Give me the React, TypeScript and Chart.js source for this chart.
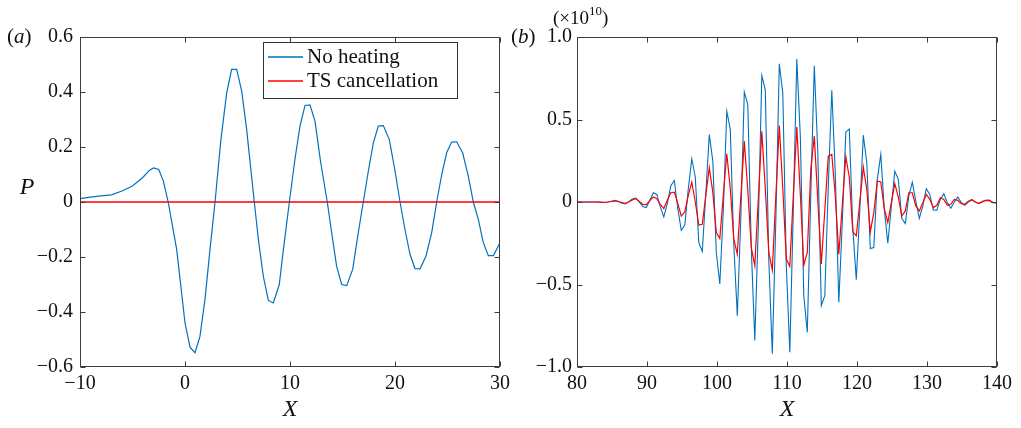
import React, { useEffect, useRef } from "react";
import { Chart, registerables } from "chart.js";

Chart.register(...registerables);

const SERIF = '"Liberation Serif", "Times New Roman", serif';
const BLUE = "#0072BD";
const RED = "#FF0000";
const FRAME = "#3c3c3c";

const seriesNames = ["No heating", "TS cancellation"];

// ---- panel (a) ----
const leftX = [
  -10, -9, -8, -7, -6, -5, -4, -3.4, -3.0, -2.5, -2.06, -1.6, -0.79, 0.0, 0.48, 0.95, 1.43, 1.9, 2.38, 2.86,
  3.4, 3.97, 4.44, 4.92, 5.4, 5.87, 6.6, 7.0, 7.46, 7.94, 8.41, 8.98, 9.37, 9.94, 10.45, 10.95, 11.43, 11.9,
  12.38, 12.9, 13.55, 14.0, 14.44, 14.92, 15.4, 15.97, 16.5, 16.98, 17.45, 17.94, 18.41, 18.89, 19.46, 19.97,
  20.48, 20.95, 21.43, 21.9, 22.38, 22.95, 23.49, 23.97, 24.45, 24.92, 25.4, 25.87, 26.44, 26.98, 27.46, 27.94,
  28.41, 28.89, 29.37, 30,
];
const leftNoHeating = [
  0.012, 0.018, 0.022, 0.026, 0.04, 0.058, 0.09, 0.115, 0.124, 0.118, 0.076, 0.0, -0.173, -0.44, -0.528, -0.548,
  -0.488, -0.355, -0.173, 0.0, 0.22, 0.397, 0.482, 0.482, 0.403, 0.264, 0.0, -0.14, -0.27, -0.358, -0.367, -0.3,
  -0.173, 0.0, 0.15, 0.276, 0.351, 0.353, 0.294, 0.15, 0.0, -0.12, -0.233, -0.3, -0.304, -0.245, -0.112, 0.0,
  0.11, 0.215, 0.276, 0.278, 0.227, 0.12, 0.0, -0.1, -0.19, -0.242, -0.243, -0.197, -0.112, 0.0, 0.1, 0.179,
  0.218, 0.219, 0.179, 0.094, 0.0, -0.064, -0.148, -0.195, -0.195, -0.148,
];
const leftTsX = [-10, 0, 10, 20, 30];
const leftTs = [0, 0, 0, 0, 0];
const leftXTicks = [-10, 0, 10, 20, 30];
const leftYTicks = [-0.6, -0.4, -0.2, 0, 0.2, 0.4, 0.6];

// ---- panel (b), values in units of 10^10 ----
const rightX = [
  79.9, 80.4, 80.9, 81.4, 81.9, 82.4, 82.9, 83.4, 83.9, 84.4,
  84.9, 85.4, 85.9, 86.4, 86.9, 87.4, 87.9, 88.4, 88.9, 89.4,
  89.9, 90.4, 90.9, 91.4, 91.9, 92.4, 92.9, 93.4, 93.9, 94.4,
  94.9, 95.4, 95.9, 96.4, 96.9, 97.4, 97.9, 98.4, 98.9, 99.4,
  99.9, 100.4, 100.9, 101.4, 101.9, 102.4, 102.9, 103.4, 103.9, 104.4,
  104.9, 105.4, 105.9, 106.4, 106.9, 107.4, 107.9, 108.4, 108.9, 109.4,
  109.9, 110.4, 110.9, 111.4, 111.9, 112.4, 112.9, 113.4, 113.9, 114.4,
  114.9, 115.4, 115.9, 116.4, 116.9, 117.4, 117.9, 118.4, 118.9, 119.4,
  119.9, 120.4, 120.9, 121.4, 121.9, 122.4, 122.9, 123.4, 123.9, 124.4,
  124.9, 125.4, 125.9, 126.4, 126.9, 127.4, 127.9, 128.4, 128.9, 129.4,
  129.9, 130.4, 130.9, 131.4, 131.9, 132.4, 132.9, 133.4, 133.9, 134.4,
  134.9, 135.4, 135.9, 136.4, 136.9, 137.4, 137.9, 138.4, 138.9, 139.4,
  139.9, 140.4,
];
const rightNoHeating = [
  0, 0, 0, 0, 0, 0, 0, -0.002, -0.003, 0,
  0.005, 0.01, 0.005, -0.008, -0.012, 0.002, 0.018, 0.024, 0.0, -0.028,
  -0.034, 0.01, 0.056, 0.046, -0.03, -0.09, -0.01, 0.097, 0.13, -0.04,
  -0.171, -0.14, 0.08, 0.262, 0.15, -0.246, -0.3, 0.05, 0.409, 0.248,
  -0.306, -0.497, -0.05, 0.55, 0.44, -0.26, -0.689, -0.1, 0.667, 0.59,
  -0.28, -0.84, -0.15, 0.766, 0.68, -0.35, -0.92, -0.12, 0.838, 0.66,
  -0.38, -0.91, -0.05, 0.866, 0.4, -0.568, -0.79, 0.05, 0.826, 0.3,
  -0.628, -0.568, 0.1, 0.677, 0.17, -0.608, -0.12, 0.423, 0.443, -0.16,
  -0.471, -0.05, 0.405, 0.238, -0.282, -0.276, 0.137, 0.288, -0.044, -0.25,
  -0.03, 0.187, 0.137, -0.1, -0.13, 0.036, 0.12, 0.006, -0.1, -0.024,
  0.081, 0.046, -0.048, -0.05, 0.016, 0.05, -0.004, -0.038, 0.0, 0.03,
  -0.004, -0.02, 0.0, 0.016, 0.0, -0.01, 0.002, 0.01, 0.012, -0.004,
  -0.006, -0.008,
];
const rightTs = [
  0, 0, 0, 0, 0, 0, 0, -0.001, -0.002, 0,
  0.003, 0.006, 0.003, -0.004, -0.008, 0.0, 0.012, 0.02, 0.003, -0.014,
  -0.016, 0.008, 0.03, 0.02, -0.015, -0.04, 0.01, 0.056, 0.06, -0.01,
  -0.085, -0.06, 0.04, 0.12, 0.0, -0.14, -0.135, 0.04, 0.208, 0.06,
  -0.185, -0.221, 0.04, 0.292, 0.08, -0.225, -0.316, 0.03, 0.369, 0.07,
  -0.276, -0.387, 0.02, 0.429, 0.08, -0.306, -0.413, 0.03, 0.463, 0.08,
  -0.346, -0.39, 0.04, 0.455, 0.05, -0.383, -0.306, 0.2, 0.399, 0.01,
  -0.376, -0.05, 0.278, 0.288, 0.036, -0.316, -0.02, 0.274, 0.15, -0.18,
  -0.205, 0.0, 0.211, 0.077, -0.181, -0.064, 0.127, 0.121, -0.04, -0.125,
  -0.004, 0.111, 0.03, -0.085, -0.054, 0.056, 0.056, -0.024, -0.054, -0.004,
  0.046, 0.016, -0.034, -0.02, 0.026, 0.016, -0.02, -0.014, 0.016, 0.01,
  -0.01, -0.014, 0.004, 0.012, 0.0, -0.008, 0.002, 0.01, 0.008, -0.002,
  -0.004, -0.006,
];
const rightXTicks = [80, 90, 100, 110, 120, 130, 140];
const rightYTicks = [-1, -0.5, 0, 0.5, 1];

function fmt(v: number, digits: number): string {
  if (Math.abs(v) < 1e-9) return "0";
  const s = Math.abs(v).toFixed(digits);
  return (v < 0 ? "\u2212" : "") + s;
}

function drawParts(ctx: CanvasRenderingContext2D, parts: any[], x: number, y: number, align: string) {
  ctx.textBaseline = "middle";
  ctx.textAlign = "left";
  let total = 0;
  const widths = parts.map((p) => {
    ctx.font = `${p.italic ? "italic " : ""}${p.size}px ${SERIF}`;
    const w = ctx.measureText(p.t).width;
    total += w;
    return w;
  });
  let cx = align === "center" ? x - total / 2 : x;
  parts.forEach((p, i) => {
    ctx.font = `${p.italic ? "italic " : ""}${p.size}px ${SERIF}`;
    ctx.fillStyle = "#111";
    ctx.fillText(p.t, cx, y + (p.dy || 0));
    cx += widths[i];
  });
}

const decorPlugin = {
  id: "decor",
  afterDraw(chart: any, _args: any, opts: any) {
    const { ctx, chartArea: a, scales } = chart;
    ctx.save();
    ctx.strokeStyle = FRAME;
    ctx.lineWidth = 1;
    const L = 5;
    const left = Math.round(a.left) + 0.5;
    const right = Math.round(a.right) - 0.5;
    const top = Math.round(a.top) + 0.5;
    const bottom = Math.round(a.bottom) - 0.5;
    ctx.beginPath();
    scales.x.ticks.forEach((t: any) => {
      const p = Math.round(scales.x.getPixelForValue(t.value)) + 0.5;
      ctx.moveTo(p, bottom);
      ctx.lineTo(p, bottom - L);
      ctx.moveTo(p, top);
      ctx.lineTo(p, top + L);
    });
    scales.y.ticks.forEach((t: any) => {
      const p = Math.round(scales.y.getPixelForValue(t.value)) + 0.5;
      ctx.moveTo(left, p);
      ctx.lineTo(left + L, p);
      ctx.moveTo(right, p);
      ctx.lineTo(right - L, p);
    });
    ctx.stroke();
    ctx.strokeRect(left, top, right - left, bottom - top);

    if (opts.legend) {
      const lg = opts.legend;
      ctx.fillStyle = "#fff";
      ctx.fillRect(lg.x, lg.y, lg.w, lg.h);
      ctx.strokeStyle = "#333";
      ctx.strokeRect(lg.x + 0.5, lg.y + 0.5, lg.w, lg.h);
      chart.data.datasets.forEach((ds: any, i: number) => {
        const yy = lg.y + lg.firstRow + i * lg.rowGap;
        ctx.strokeStyle = ds.borderColor;
        ctx.lineWidth = 1.3;
        ctx.beginPath();
        ctx.moveTo(lg.x + 5, yy);
        ctx.lineTo(lg.x + 40, yy);
        ctx.stroke();
        ctx.font = `${lg.size}px ${SERIF}`;
        ctx.fillStyle = "#111";
        ctx.textBaseline = "middle";
        ctx.textAlign = "left";
        ctx.fillText(ds.label, lg.x + 44, yy);
      });
    }
    (opts.texts || []).forEach((tx: any) => drawParts(ctx, tx.parts, tx.x, tx.y, tx.align));
    ctx.restore();
  },
};

function makeConfig(p: any) {
  return {
    type: "line",
    data: { datasets: p.datasets },
    options: {
      animation: false,
      responsive: false,
      maintainAspectRatio: false,
      events: [],
      layout: { padding: p.padding },
      plugins: {
        legend: { display: false },
        tooltip: { enabled: false },
        decor: { legend: p.legend, texts: p.texts },
      },
      elements: { point: { radius: 0 }, line: { tension: 0 } },
      scales: {
        x: {
          type: "linear",
          min: p.xMin,
          max: p.xMax,
          afterBuildTicks: (s: any) => {
            s.ticks = p.xTicks.map((v: number) => ({ value: v }));
          },
          afterFit: (s: any) => {
            s.height = p.xAxisHeight;
          },
          grid: { display: false, drawTicks: false },
          border: { display: false },
          ticks: {
            padding: 5,
            autoSkip: false,
            maxRotation: 0,
            color: "#111",
            font: { family: SERIF, size: 20 },
            callback: (v: number) => fmt(v, 0),
          },
        },
        y: {
          type: "linear",
          min: p.yMin,
          max: p.yMax,
          afterBuildTicks: (s: any) => {
            s.ticks = p.yTicks.map((v: number) => ({ value: v }));
          },
          afterFit: (s: any) => {
            s.width = p.yAxisWidth;
          },
          grid: { display: false, drawTicks: false },
          border: { display: false },
          ticks: {
            padding: p.yPad,
            autoSkip: false,
            color: "#111",
            font: { family: SERIF, size: 20 },
            callback: (v: number) => fmt(v, 1),
          },
        },
      },
    },
    plugins: [decorPlugin],
  } as any;
}

function Panel({ cfg }: { cfg: any }) {
  const ref = useRef<HTMLCanvasElement | null>(null);
  useEffect(() => {
    if (!ref.current) return;
    const chart = new Chart(ref.current, makeConfig(cfg));
    return () => chart.destroy();
  }, [cfg]);
  return (
    <canvas
      ref={ref}
      width={1021}
      height={428}
      style={{ position: "absolute", left: 0, top: 0, width: 1021, height: 428 }}
    />
  );
}

const leftCfg = {
  datasets: [
    {
      label: seriesNames[0],
      data: leftX.map((x, i) => ({ x, y: leftNoHeating[i] })),
      borderColor: BLUE,
      borderWidth: 1.2,
      order: 1,
    },
    {
      label: seriesNames[1],
      data: leftTsX.map((x, i) => ({ x, y: leftTs[i] })),
      borderColor: RED,
      borderWidth: 1.3,
      order: 0,
    },
  ],
  padding: { left: 0, right: 521, top: 37, bottom: 0 },
  xMin: -10,
  xMax: 30,
  yMin: -0.6,
  yMax: 0.6,
  xTicks: leftXTicks,
  yTicks: leftYTicks,
  xAxisHeight: 61,
  yAxisWidth: 80,
  yPad: 7,
  legend: { x: 263, y: 42, w: 194, h: 56, firstRow: 15, rowGap: 24, size: 21 },
  texts: [
    { parts: [{ t: "(", size: 21 }, { t: "a", size: 21, italic: true }, { t: ")", size: 21 }], x: 7, y: 37, align: "left" },
    { parts: [{ t: "P", size: 24, italic: true }], x: 27, y: 188, align: "center" },
    { parts: [{ t: "X", size: 24, italic: true }], x: 290, y: 410, align: "center" },
  ],
};

const rightCfg = {
  datasets: [
    {
      label: seriesNames[0],
      data: rightX.map((x, i) => ({ x, y: rightNoHeating[i] })),
      borderColor: BLUE,
      borderWidth: 1.1,
      order: 1,
    },
    {
      label: seriesNames[1],
      data: rightX.map((x, i) => ({ x, y: rightTs[i] })),
      borderColor: RED,
      borderWidth: 1.2,
      order: 0,
    },
  ],
  padding: { left: 515, right: 24, top: 37, bottom: 0 },
  xMin: 80,
  xMax: 140,
  yMin: -1,
  yMax: 1,
  xTicks: rightXTicks,
  yTicks: rightYTicks,
  xAxisHeight: 61,
  yAxisWidth: 62,
  yPad: 5,
  legend: null,
  texts: [
    { parts: [{ t: "(", size: 21 }, { t: "b", size: 21, italic: true }, { t: ")", size: 21 }], x: 511, y: 37, align: "left" },
    {
      parts: [
        { t: "(\u00D710", size: 19 },
        { t: "10", size: 13, dy: -7 },
        { t: ")", size: 19 },
      ],
      x: 553,
      y: 19,
      align: "left",
    },
    { parts: [{ t: "X", size: 24, italic: true }], x: 787, y: 410, align: "center" },
  ],
};

export default function App() {
  return (
    <div style={{ position: "fixed", left: 0, top: 0, width: 1021, height: 428, background: "#fff" }}>
      <Panel cfg={leftCfg} />
      <Panel cfg={rightCfg} />
    </div>
  );
}
